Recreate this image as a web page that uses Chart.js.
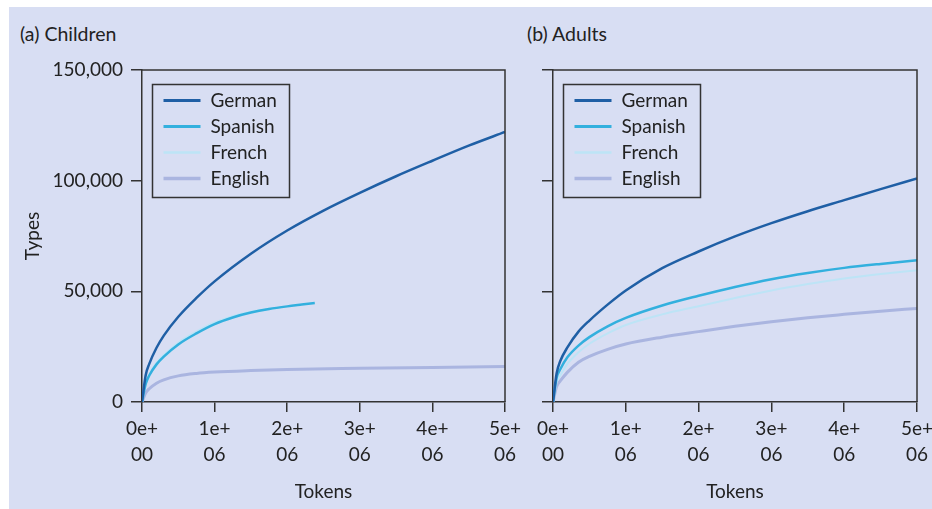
<!DOCTYPE html>
<html>
<head>
<meta charset="utf-8">
<script src="https://cdn.jsdelivr.net/npm/chart.js@4.4.1/dist/chart.umd.min.js"></script>
<style>
  body { margin: 0; width: 932px; height: 509px; overflow: hidden; position: relative; background: #fff; font-family: Lato, "DejaVu Sans", sans-serif; }
  #bg { position: absolute; left: 9px; top: 7px; right: 0; bottom: 0; background: #d8def3; }
  .panel { position: absolute; top: 0; height: 509px; }
  #leftPanel { left: 0; width: 530px; }
  #rightPanel { left: 530px; width: 412px; }
  .ptitle { position: absolute; top: 22px; font-size: 19.5px; line-height: 24px; color: #222; }
</style>
</head>
<body>
<div id="bg"></div>
<div class="ptitle" style="left:20px">(a) Children</div>
<div class="ptitle" style="left:527px">(b) Adults</div>
<div class="panel" id="leftPanel"><canvas id="childChart"></canvas></div>
<div class="panel" id="rightPanel"><canvas id="adultChart"></canvas></div>
<script>
// tokens in millions, types in thousands
const languages = ['German', 'Spanish', 'French', 'English'];

// (a) Children
const childGermanTokens = [0, 0.05, 0.1, 0.2, 0.3, 0.5, 0.75, 1, 1.5, 2, 2.5, 3, 3.5, 4, 4.5, 5];
const childGermanTypes = [0, 12, 17.2, 24.5, 30, 38.5, 47, 54.5, 67, 77.5, 86.5, 94.5, 102, 109, 115.8, 122];
const childSpanishTokens = [0, 0.05, 0.1, 0.2, 0.3, 0.5, 0.75, 1, 1.25, 1.5, 1.75, 2, 2.2, 2.38];
const childSpanishTypes = [0, 8, 12, 17, 20.5, 26, 31, 35.2, 38.2, 40.4, 42, 43.2, 44, 44.7];
const childFrenchTokens = [0, 0.05, 0.1, 0.2, 0.3, 0.5, 0.75, 1, 1.25, 1.5, 1.75, 1.9];
const childFrenchTypes = [0, 8.5, 12.5, 17.8, 21.2, 26.8, 31.8, 35.9, 38.8, 40.8, 42.1, 42.7];
const childEnglishTokens = [0, 0.05, 0.1, 0.2, 0.3, 0.5, 0.75, 1, 1.5, 2, 3, 4, 5];
const childEnglishTypes = [0, 4, 6, 8.5, 10, 11.8, 12.9, 13.5, 14.2, 14.7, 15.2, 15.6, 16];

// (b) Adults
const adultTokens = [0, 0.05, 0.1, 0.2, 0.35, 0.5, 0.75, 1, 1.5, 2, 2.5, 3, 3.5, 4, 4.5, 5];
const adultGermanTypes = [0, 13, 18.5, 24.8, 31.8, 36.8, 44, 50.4, 60.5, 68, 74.8, 80.8, 86.2, 91.2, 96.2, 101];
const adultSpanishTypes = [0, 11, 14.8, 20.3, 25.5, 29.3, 34.2, 38, 43.6, 48, 52, 55.5, 58.3, 60.6, 62.4, 64];
const adultFrenchTypes = [0, 9, 12, 17.3, 22.5, 26.3, 31, 34.8, 39.6, 43.3, 47, 50.4, 53.3, 55.8, 57.8, 59.5];
const adultEnglishTypes = [0, 7, 9.5, 13.5, 18, 20.6, 23.8, 26.2, 29.3, 31.8, 34.2, 36.3, 38.1, 39.6, 41, 42.3];

const yTicks = [0, 50000, 100000, 150000];

const lineColors = ['#1f5fa5', '#33b0de', '#bde4f6', '#aab5e0'];
const lineWidths = [2.5, 2.5, 2, 3];
const axisColor = '#333';
const textColor = '#222';
const fontSize = 19;

function toPoints(tokens, types) {
    return tokens.map((t, i) => ({ x: t * 1e6, y: types[i] * 1000 }));
}

function makeDatasets(series) {
    return series.map((pts, i) => ({
        label: languages[i],
        data: pts,
        borderColor: lineColors[i],
        backgroundColor: lineColors[i],
        borderWidth: lineWidths[i],
        pointRadius: 0,
        cubicInterpolationMode: 'monotone',
        fill: false
    }));
}

// boxed legend in the upper left of the plot
const boxLegend = {
    id: 'boxLegend',
    afterDatasetsDraw(chart) {
        const ctx = chart.ctx;
        const area = chart.chartArea;
        const x0 = area.left + 10.5, y0 = area.top + 14.5;
        ctx.save();
        ctx.strokeStyle = axisColor;
        ctx.lineWidth = 1.5;
        ctx.strokeRect(x0, y0, 137, 113);
        ctx.font = fontSize + 'px Lato, sans-serif';
        ctx.textBaseline = 'middle';
        ctx.fillStyle = textColor;
        chart.data.datasets.forEach((ds, i) => {
            const y = y0 + 16 + i * 26;
            ctx.strokeStyle = ds.borderColor;
            ctx.lineWidth = ds.borderWidth + 0.5;
            ctx.beginPath();
            ctx.moveTo(x0 + 11, y);
            ctx.lineTo(x0 + 48, y);
            ctx.stroke();
            ctx.fillText(ds.label, x0 + 58, y);
        });
        ctx.restore();
    }
};

// top and right sides of the plot box
const frame = {
    id: 'frame',
    afterDraw(chart) {
        const ctx = chart.ctx;
        const a = chart.chartArea;
        ctx.save();
        ctx.strokeStyle = axisColor;
        ctx.lineWidth = 1.5;
        ctx.beginPath();
        ctx.moveTo(a.left, a.top);
        ctx.lineTo(a.right, a.top);
        ctx.lineTo(a.right, a.bottom);
        ctx.stroke();
        ctx.restore();
    }
};

function makeChart(canvasId, series, showYLabels, axisWidth, padRight) {
    return new Chart(document.getElementById(canvasId), {
        type: 'line',
        data: { datasets: makeDatasets(series) },
        plugins: [boxLegend, frame],
        options: {
            responsive: true,
            maintainAspectRatio: false,
            animation: false,
            layout: { padding: { top: 70, right: padRight, bottom: 0, left: 0 } },
            plugins: {
                legend: { display: false },
                tooltip: { enabled: false }
            },
            scales: {
                x: {
                    type: 'linear',
                    min: 0,
                    max: 5e6,
                    afterFit: (scale) => { scale.height = 107; },
                    ticks: {
                        stepSize: 1e6,
                        maxRotation: 0,
                        padding: 4,
                        color: textColor,
                        font: { family: 'Lato', size: fontSize, lineHeight: 1.35 },
                        callback: (v) => [(v / 1e6) + 'e+', v === 0 ? '00' : '06']
                    },
                    grid: { drawOnChartArea: false, tickLength: 10, color: axisColor, lineWidth: 1.5 },
                    border: { color: axisColor, width: 1.5 },
                    title: {
                        display: true,
                        text: 'Tokens',
                        color: textColor,
                        font: { family: 'Lato', size: fontSize },
                        padding: { top: 0, bottom: 6 }
                    }
                },
                y: {
                    min: 0,
                    max: 150000,
                    afterFit: (scale) => { scale.width = axisWidth; },
                    afterBuildTicks: (scale) => { scale.ticks = yTicks.map(v => ({ value: v })); },
                    ticks: {
                        display: showYLabels,
                        padding: 8,
                        color: textColor,
                        font: { family: 'Lato', size: fontSize },
                        callback: (v) => v.toLocaleString('en-US')
                    },
                    grid: { drawOnChartArea: false, tickLength: 11, color: axisColor, lineWidth: 1.5 },
                    border: { color: axisColor, width: 1.5 },
                    title: {
                        display: showYLabels,
                        text: 'Types',
                        color: textColor,
                        font: { family: 'Lato', size: fontSize },
                        padding: { top: 21, bottom: 0 }
                    }
                }
            }
        }
    });
}

makeChart('childChart', [
    toPoints(childGermanTokens, childGermanTypes),
    toPoints(childSpanishTokens, childSpanishTypes),
    toPoints(childFrenchTokens, childFrenchTypes),
    toPoints(childEnglishTokens, childEnglishTypes)
], true, 142, 25);

makeChart('adultChart', [
    toPoints(adultTokens, adultGermanTypes),
    toPoints(adultTokens, adultSpanishTypes),
    toPoints(adultTokens, adultFrenchTypes),
    toPoints(adultTokens, adultEnglishTypes)
], false, 23, 25);
</script>
</body>
</html>
